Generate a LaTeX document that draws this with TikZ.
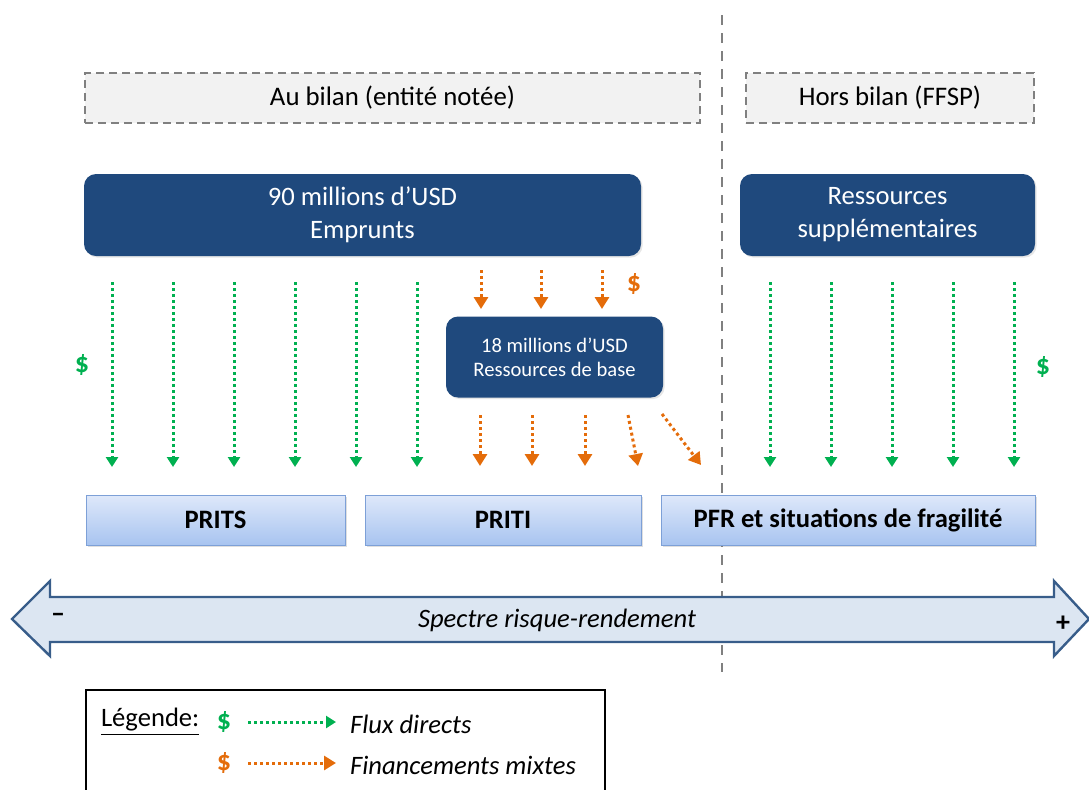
\documentclass[tikz,border=0pt]{standalone}
\usepackage{fontspec}
\setmainfont{Carlito}
\usetikzlibrary{arrows.meta,shadows}
\definecolor{fundblue}{RGB}{31,73,125}
\definecolor{flowgreen}{RGB}{0,176,80}
\definecolor{floworange}{RGB}{228,108,10}
\definecolor{taggray}{RGB}{242,242,242}
\definecolor{tagline}{RGB}{128,128,128}
\definecolor{grptop}{RGB}{222,232,250}
\definecolor{grpbot}{RGB}{168,196,240}
\definecolor{grpline}{RGB}{125,160,215}
\definecolor{spectfill}{RGB}{220,230,242}
\definecolor{spectline}{RGB}{56,93,138}

\begin{document}
\begin{tikzpicture}[x=0.5pt,y=-0.5pt,
    tag/.style={draw=tagline, fill=taggray, line width=1.2pt, dash pattern=on 4pt off 2.5pt,
        minimum height=25pt, inner sep=0pt, font=\fontsize{13.4}{15}\selectfont},
    fund/.style={fill=fundblue, rounded corners=6pt, text=white, align=center, inner sep=0pt,
        drop shadow={opacity=0.2, shadow xshift=0.8pt, shadow yshift=-0.8pt}},
    group/.style={draw=grpline, top color=grptop, bottom color=grpbot, minimum height=25pt,
        inner sep=0pt, font=\bfseries\fontsize{13.3}{15}\selectfont,
        drop shadow={opacity=0.25, shadow xshift=1pt, shadow yshift=-1.2pt}},
    directflow/.style={draw=flowgreen, line width=1.5pt, dash pattern=on 1.5pt off 1.5pt,
        -{Triangle[width=6pt,length=5pt]}},
    mixedflow/.style={draw=floworange, line width=1.5pt, dash pattern=on 1.5pt off 1.5pt,
        -{Triangle[width=7pt,length=6pt]}},
    dollar/.style={font=\bfseries\fontsize{14}{16}\selectfont}
  ]
  \useasboundingbox (0,0) rectangle (1089,789);

  % separation bilan / hors bilan
  \draw[tagline, line width=1pt, dash pattern=on 5pt off 4pt] (722,15) -- (722,672);

  \node[tag, minimum width=307.5pt] (aubilan) at (392.5,98) {Au bilan (entité notée)};
  \node[tag, minimum width=144pt] (horsbilan) at (890,98) {Hors bilan (FFSP)};

  \node[fund, minimum width=278.5pt, minimum height=41pt, font=\fontsize{13.3}{16.5}\selectfont]
      (emprunts) at (362.5,215) {90 millions d’USD\\Emprunts};
  \node[fund, minimum width=147.5pt, minimum height=41pt, font=\fontsize{13.3}{16.5}\selectfont]
      (suppl) at (887.5,215) {Ressources\\supplémentaires};
  \node[fund, minimum width=108.5pt, minimum height=40.5pt, font=\fontsize{10.3}{12}\selectfont]
      (base) at (554.5,357) {18 millions d’USD\\Ressources de base};

  % flux directs
  \foreach \x in {112,173,234,295,356,417,770,831,892,953,1014}
    \draw[directflow] (\x,282) -- (\x,467);
  \node[dollar, text=flowgreen] (dlrleft) at (82,365) {\$};
  \node[dollar, text=flowgreen] (dlrright) at (1043,367) {\$};

  % financements mixtes
  \foreach \x in {481,541,602}
    \draw[mixedflow] (\x,270) -- (\x,309);
  \node[dollar, text=floworange] (dlrmix) at (634,284) {\$};
  \foreach \x in {480,532,585}
    \draw[mixedflow] (\x,415) -- (\x,466);
  \draw[mixedflow] (628,415) -- (638,466);
  \draw[mixedflow] (662,414) -- (701,465);

  \node[group, minimum width=129.5pt] (prits) at (215.5,520) {PRITS};
  \node[group, minimum width=138pt] (priti) at (503,520) {PRITI};
  \node[group, minimum width=187pt] (pfr) at (848,520) {PFR et situations de fragilité};

  % spectre
  \draw[spectline, fill=spectfill, line width=1.2pt, line join=miter]
      (12,619) -- (50,581) -- (50,597) -- (1054,597) -- (1054,581) -- (1089,619)
      -- (1054,656) -- (1054,642) -- (50,642) -- (50,656) -- cycle;
  \node[font=\itshape\fontsize{13.3}{15}\selectfont] (spectre) at (557,620) {Spectre risque-rendement};
  \node[font=\bfseries\fontsize{14}{16}\selectfont] (moins) at (58,618) {–};
  \node[font=\bfseries\fontsize{14}{16}\selectfont] (plus) at (1063,624) {+};

  % legende
  \draw[line width=0.8pt] (86,800) -- (86,690) -- (605,690) -- (605,800);
  \node[anchor=west, font=\fontsize{13.3}{15}\selectfont] (legende) at (94,722) {\underline{Légende:}};
  \node[dollar, text=flowgreen] (lgdgreen) at (224,722) {\$};
  \node[dollar, text=floworange] (lgdorange) at (224,763) {\$};
  \coordinate (gstart) at (248,722);
  \coordinate (gend) at (336,722);
  \coordinate (ostart) at (248,763);
  \coordinate (oend) at (336,763);
  \draw[directflow] (gstart) -- (gend);
  \draw[mixedflow] (ostart) -- (oend);
  \node[anchor=west, font=\itshape\fontsize{13.3}{15}\selectfont] (flux) at (343,724) {Flux directs};
  \node[anchor=west, font=\itshape\fontsize{13.3}{15}\selectfont] (mixtes) at (343,765) {Financements mixtes};
\end{tikzpicture}
\end{document}
